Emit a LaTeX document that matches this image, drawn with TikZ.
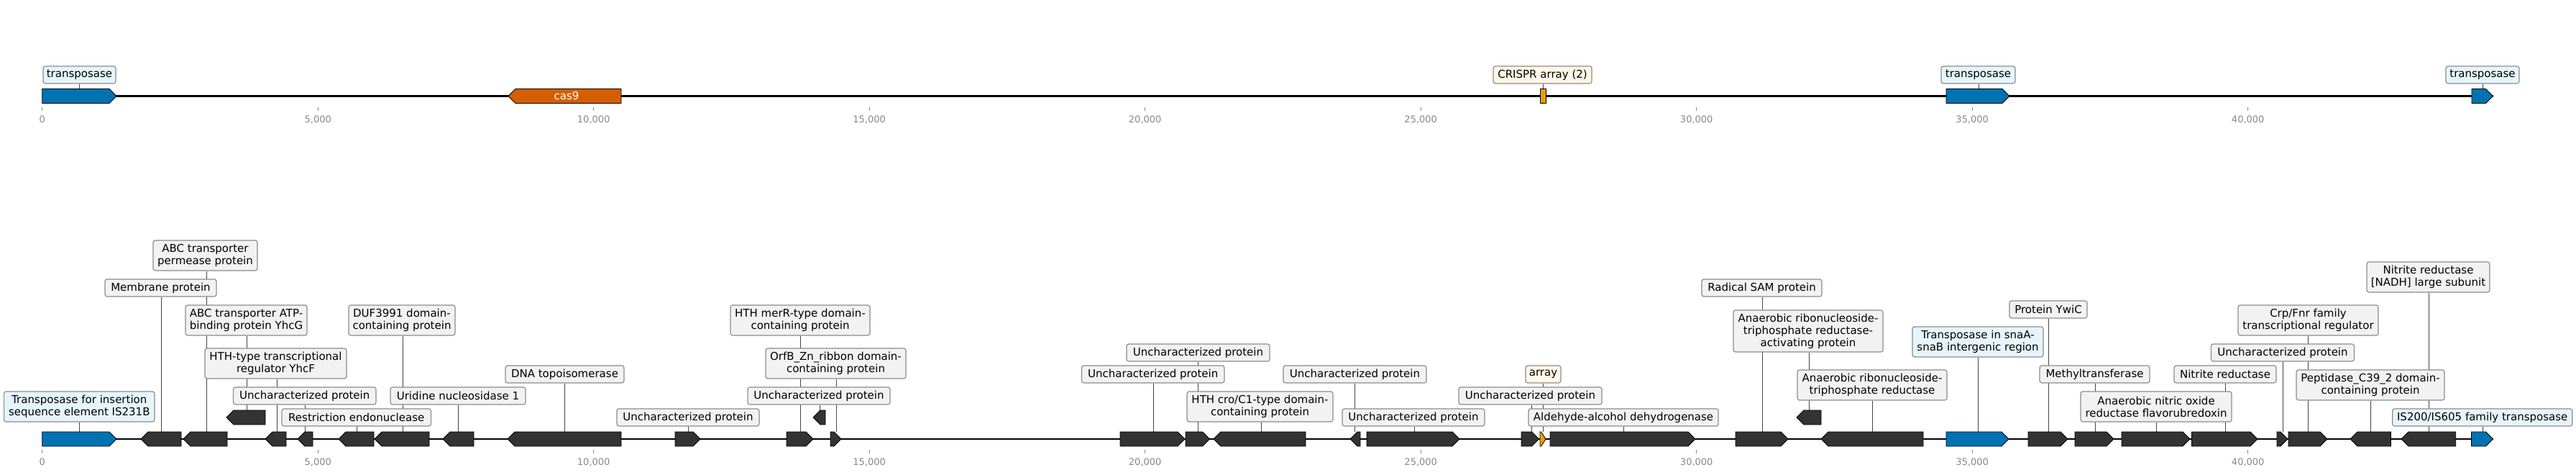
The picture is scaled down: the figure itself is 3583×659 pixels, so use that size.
\documentclass[tikz,border=0pt]{standalone}
\usepackage{fontspec}
\setmainfont{DejaVu Sans}
\definecolor{featdark}{HTML}{333333}
\definecolor{featblue}{HTML}{0072B2}
\definecolor{featorange}{HTML}{D55E00}
\definecolor{featyellow}{HTML}{E69F00}
\definecolor{labfill}{HTML}{F2F2F2}
\definecolor{labedge}{HTML}{8C8C8C}
\definecolor{labblue}{HTML}{E6F5FC}
\definecolor{labcream}{HTML}{FFF7E6}
\definecolor{axgray}{HTML}{888888}
\definecolor{conncol}{HTML}{444444}
\pgfdeclarelayer{bg}
\pgfdeclarelayer{fg}
\pgfsetlayers{bg,main,fg}
\newcommand\fwdfeat[4]{\pgfmathsetmacro\hd{min(10,0.8*(#3-#2))}%
  \draw[#1] (#2,#4-10) -- ({#3-\hd},#4-10) -- (#3,#4) -- ({#3-\hd},#4+10) -- (#2,#4+10) -- cycle;}
\newcommand\revfeat[4]{\pgfmathsetmacro\hd{min(10,0.8*(#3-#2))}%
  \draw[#1] (#3,#4-10) -- ({#2+\hd},#4-10) -- (#2,#4) -- ({#2+\hd},#4+10) -- (#3,#4+10) -- cycle;}
\begin{document}
\begin{tikzpicture}[x=1pt,y=-1pt,
  lab/.style={draw=labedge, fill=labfill, rounded corners=3pt, line width=1.2pt, inner sep=0pt, align=center, font=\fontsize{15}{17}\selectfont},
  bluelab/.style={lab, fill=labblue},
  creamlab/.style={lab, fill=labcream},
  feat/.style={fill=featdark, draw=black, line width=0.8pt},
  bluefeat/.style={fill=featblue, draw=black, line width=0.8pt},
  conn/.style={draw=conncol, line width=0.8pt},
  seqline/.style={draw=black, line width=2.2pt},
  tickmark/.style={draw=axgray, line width=0.6pt},
  axlabel/.style={text=axgray, font=\fontsize{13}{15}\selectfont, inner sep=0pt}]
\useasboundingbox (0,0) rectangle (3583,659);

% ================= TOP TRACK =================
\coordinate (topstart) at (58.7,133.5);
\coordinate (topend) at (3467.5,133.5);
\foreach \k/\t in {0/0,1/{5,000},2/{10,000},3/{15,000},4/{20,000},5/{25,000},6/{30,000},7/{35,000},8/{40,000}}{
  \draw[tickmark] ({58.7+383.5*\k},149) -- ({58.7+383.5*\k},154);
  \node[axlabel] at ({58.7+383.5*\k},166) {\t};
}
\coordinate (tc1) at (110,123.5);
\coordinate (tc2) at (2146,123.5);
\coordinate (tc3) at (2752,123.5);
\coordinate (tc4) at (3453,123.5);
\node[bluelab, minimum width=101, minimum height=24] (T1) at (110.5,104) {transposase};
\node[creamlab, minimum width=137, minimum height=24] (T2) at (2145.5,104) {CRISPR array (2)};
\node[bluelab, minimum width=103, minimum height=24] (T3) at (2751.5,104) {transposase};
\node[bluelab, minimum width=102, minimum height=24] (T4) at (3453,104) {transposase};
\begin{pgfonlayer}{bg}
\draw[seqline] (topstart) -- (topend);
\foreach \i in {1,2,3,4}{ \draw[conn] (tc\i) -- (tc\i |- T\i.south); }
\end{pgfonlayer}
\begin{pgfonlayer}{fg}
\fwdfeat{bluefeat}{58.7}{162}{133.5}
\revfeat{fill=featorange, draw=black, line width=0.8pt}{707}{864}{133.5}
\node[text=white, font=\fontsize{15}{17}\selectfont, inner sep=0pt] (cas) at (788,133.5) {cas9};
\draw[fill=featyellow, draw=black, line width=0.8pt] (2142,123.5) rectangle (2150,143.5);
\fwdfeat{bluefeat}{2707}{2795}{133.5}
\fwdfeat{bluefeat}{3438}{3467.5}{133.5}
\end{pgfonlayer}

% ================= BOTTOM TRACK =================
\coordinate (botstart) at (58.7,610);
\coordinate (botend) at (3467.5,610);
\foreach \k/\t in {0/0,1/{5,000},2/{10,000},3/{15,000},4/{20,000},5/{25,000},6/{30,000},7/{35,000},8/{40,000}}{
  \draw[tickmark] ({58.7+383.5*\k},625) -- ({58.7+383.5*\k},630);
  \node[axlabel] at ({58.7+383.5*\k},642) {\t};
}

% connector anchor points (feature tops)
\foreach \n/\x/\y in {1/110.7/600, 2/224.5/600, 3/287/600, 4/343/570, 5/385/600, 6/424.5/600,
  7/496/600, 8/560/600, 9/637/600, 10/785.5/600, 11/957/600, 12/1113/600, 13/1163/600,
  14/1140/570, 15/1604/600, 16/1666/600, 17/1754/600, 18/1884.5/600, 19/1967/600,
  20/2130/600, 21/2146/600, 22/2258/600, 23/2451/600, 24/2516/570, 25/2604.5/600,
  26/2751/600, 27/2849/600, 28/2914/600, 29/2999/600, 30/3095/600, 31/3175/600,
  32/3210.5/600, 33/3297/600, 34/3378.6/600, 35/3453.6/600}{
  \coordinate (c\n) at (\x,\y);
}

% labels
\path
  node[bluelab, minimum width=209.4, minimum height=42] (L1) at (110.3,565) {Transposase for insertion\\sequence element IS231B}
  node[lab, minimum width=155, minimum height=24] (L2) at (223.5,400) {Membrane protein}
  node[lab, minimum width=145, minimum height=42] (L3) at (285.5,355) {ABC transporter\\permease protein}
  node[lab, minimum width=169, minimum height=42] (L4) at (342.5,445) {ABC transporter ATP-\\binding protein YhcG}
  node[lab, minimum width=197, minimum height=42] (L5) at (383.5,505) {HTH-type transcriptional\\regulator YhcF}
  node[lab, minimum width=198.5, minimum height=24] (L6) at (423.75,550) {Uncharacterized protein}
  node[lab, minimum width=207.5, minimum height=24] (L7) at (495.75,580) {Restriction endonuclease}
  node[lab, minimum width=148, minimum height=42] (L8) at (559,445) {DUF3991 domain-\\containing protein}
  node[lab, minimum width=188, minimum height=24] (L9) at (637,550) {Uridine nucleosidase 1}
  node[lab, minimum width=165, minimum height=24] (L10) at (785.5,520) {DNA topoisomerase}
  node[lab, minimum width=198, minimum height=24] (L11) at (957,580) {Uncharacterized protein}
  node[lab, minimum width=194, minimum height=42] (L12) at (1113,445) {HTH merR-type domain-\\containing protein}
  node[lab, minimum width=195, minimum height=42] (L13) at (1162.5,505) {OrfB\_Zn\_ribbon domain-\\containing protein}
  node[lab, minimum width=198, minimum height=24] (L14) at (1139,550) {Uncharacterized protein}
  node[lab, minimum width=198.5, minimum height=24] (L15) at (1603.75,520) {Uncharacterized protein}
  node[lab, minimum width=199, minimum height=24] (L16) at (1666.5,490) {Uncharacterized protein}
  node[lab, minimum width=203, minimum height=42] (L17) at (1752.5,565) {HTH cro/C1-type domain-\\containing protein}
  node[lab, minimum width=199, minimum height=24] (L18) at (1884.5,520) {Uncharacterized protein}
  node[lab, minimum width=198, minimum height=24] (L19) at (1966,580) {Uncharacterized protein}
  node[lab, minimum width=199, minimum height=24] (L20) at (2128.5,550) {Uncharacterized protein}
  node[creamlab, minimum width=49, minimum height=24] (L21) at (2146.5,520) {array}
  node[lab, minimum width=264, minimum height=24] (L22) at (2258,580) {Aldehyde-alcohol dehydrogenase}
  node[lab, minimum width=167, minimum height=24] (L23) at (2450.5,400) {Radical SAM protein}
  node[lab, minimum width=208, minimum height=58] (L24) at (2515,460) {Anaerobic ribonucleoside-\\triphosphate reductase-\\activating protein}
  node[lab, minimum width=208, minimum height=42] (L25) at (2604,535) {Anaerobic ribonucleoside-\\triphosphate reductase}
  node[bluelab, minimum width=182, minimum height=42] (L26) at (2751,475) {Transposase in snaA-\\snaB intergenic region}
  node[lab, minimum width=108, minimum height=24] (L27) at (2849,430) {Protein YwiC}
  node[lab, minimum width=153, minimum height=24] (L28) at (2913.5,520) {Methyltransferase}
  node[lab, minimum width=210, minimum height=42] (L29) at (2999,565) {Anaerobic nitric oxide\\reductase flavorubredoxin}
  node[lab, minimum width=142, minimum height=24] (L30) at (3095,520) {Nitrite reductase}
  node[lab, minimum width=199, minimum height=24] (L31) at (3175,490) {Uncharacterized protein}
  node[lab, minimum width=195, minimum height=42] (L32) at (3210.5,445) {Crp/Fnr family\\transcriptional regulator}
  node[lab, minimum width=206, minimum height=42] (L33) at (3297,535) {Peptidase\_C39\_2 domain-\\containing protein}
  node[lab, minimum width=171, minimum height=42] (L34) at (3377.5,385) {Nitrite reductase\\{[NADH]} large subunit}
  node[bluelab, minimum width=250, minimum height=24] (L35) at (3452.7,580) {IS200/IS605 family transposase};

% sequence line and connectors behind the labels
\begin{pgfonlayer}{bg}
\draw[seqline] (botstart) -- (botend);
\foreach \i in {1,...,35}{ \draw[conn] (c\i) -- (c\i |- L\i.south); }
\end{pgfonlayer}

% features in front
\begin{pgfonlayer}{fg}
\fwdfeat{bluefeat}{58.7}{162}{610}
\revfeat{feat}{196}{252}{610}
\revfeat{feat}{255}{316}{610}
\revfeat{feat}{315}{369}{580}
\revfeat{feat}{369}{398}{610}
\revfeat{feat}{414}{435}{610}
\revfeat{feat}{471}{520}{610}
\revfeat{feat}{521}{597}{610}
\revfeat{feat}{616}{659}{610}
\revfeat{feat}{706}{864}{610}
\fwdfeat{feat}{939}{974}{610}
\fwdfeat{feat}{1094}{1131}{610}
\fwdfeat{feat}{1155}{1170}{610}
\revfeat{feat}{1131}{1148}{580}
\fwdfeat{feat}{1558}{1648}{610}
\fwdfeat{feat}{1649}{1682.5}{610}
\revfeat{feat}{1688}{1816}{610}
\revfeat{feat}{1878}{1892}{610}
\fwdfeat{feat}{1901}{2030}{610}
\fwdfeat{feat}{2116}{2140.6}{610}
\fwdfeat{fill=featyellow, draw=black, line width=0.8pt}{2142}{2150}{610}
\fwdfeat{feat}{2156}{2358}{610}
\fwdfeat{feat}{2414}{2487}{610}
\revfeat{feat}{2499}{2533}{580}
\revfeat{feat}{2533}{2675}{610}
\fwdfeat{bluefeat}{2707}{2794}{610}
\fwdfeat{feat}{2821}{2876}{610}
\fwdfeat{feat}{2886}{2940}{610}
\fwdfeat{feat}{2951}{3046}{610}
\fwdfeat{feat}{3048.5}{3140}{610}
\fwdfeat{feat}{3167}{3182}{610}
\fwdfeat{feat}{3183}{3237}{610}
\revfeat{feat}{3269}{3325.5}{610}
\revfeat{feat}{3340}{3415.7}{610}
\fwdfeat{bluefeat}{3437.5}{3467.5}{610}
\end{pgfonlayer}
\end{tikzpicture}
\end{document}
